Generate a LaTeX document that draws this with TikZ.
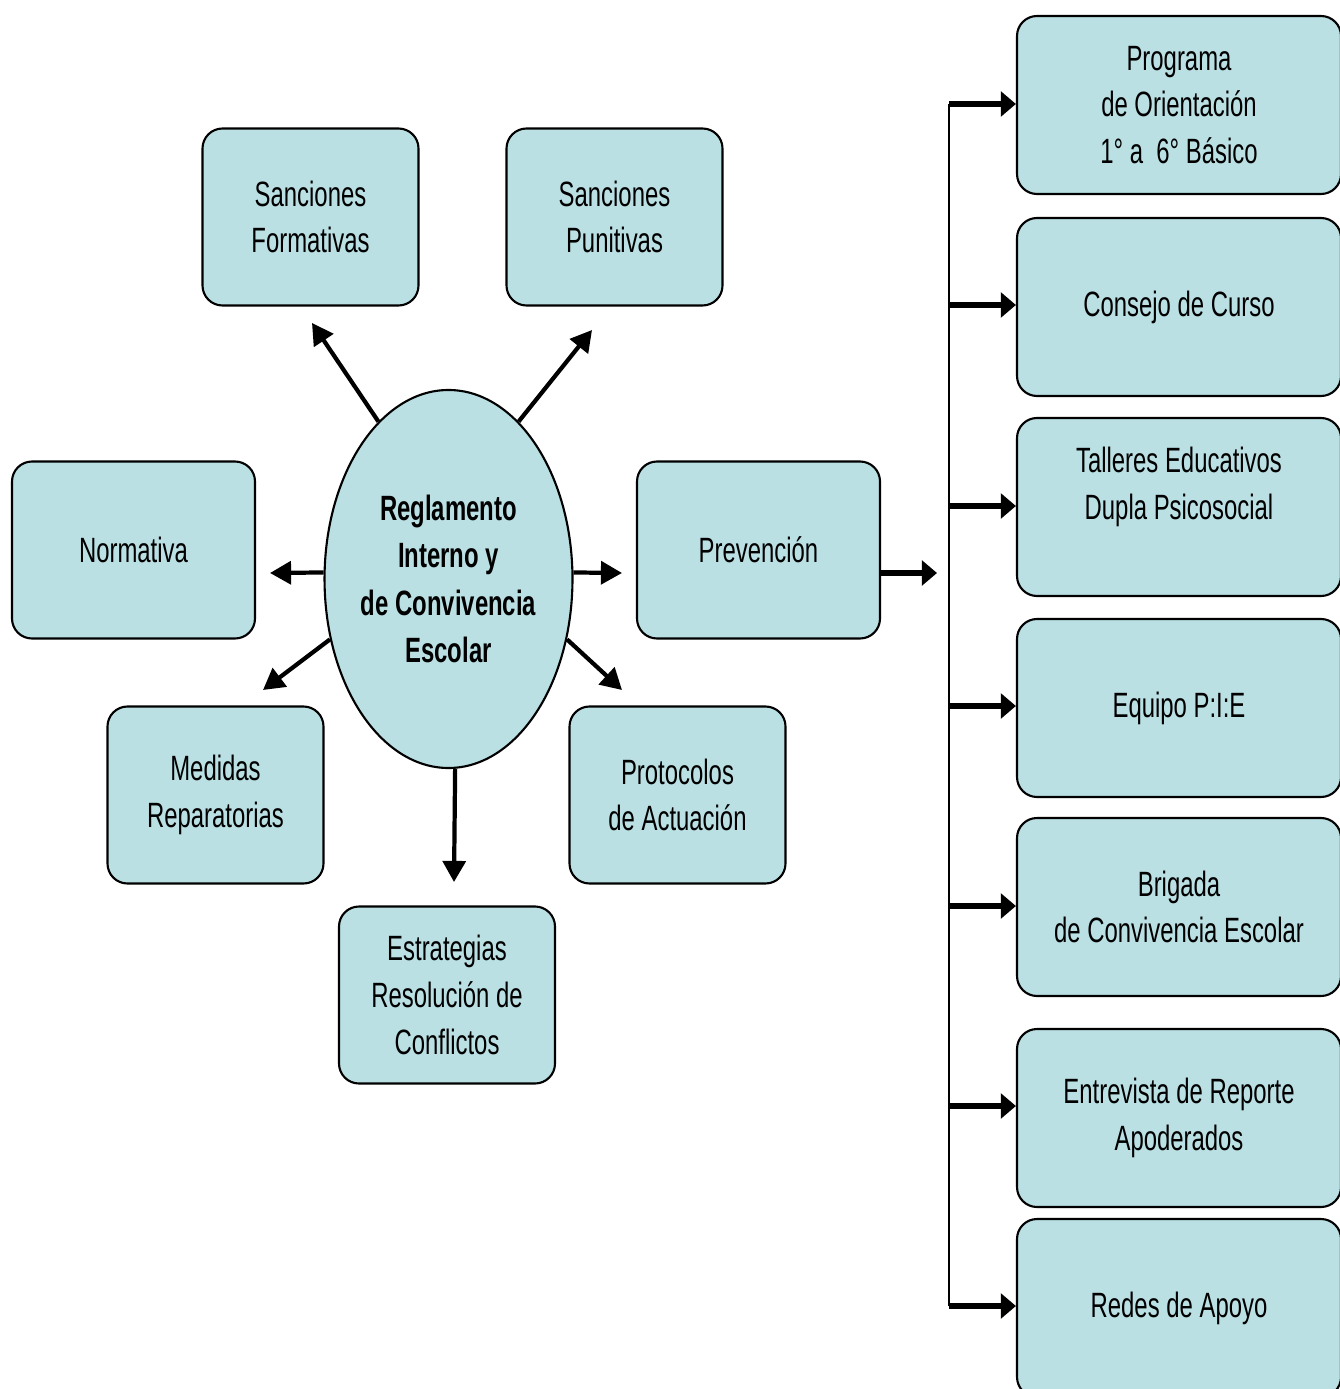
\documentclass[tikz,border=0pt]{standalone}
\usepackage{fontspec}
\setmainfont{Liberation Sans}
\newfontfamily\estrecha[FakeStretch=0.68]{Liberation Sans}
\usetikzlibrary{shapes.geometric,arrows.meta}
\definecolor{celeste}{RGB}{186,224,228}

\tikzset{
	caja/.style={draw, fill=celeste, line width=0.6pt, rounded corners=0.2cm, minimum width=2.16cm, minimum height=1.77cm, align=center, font=\estrecha\fontsize{10}{13.3}\selectfont},
	cajader/.style={caja, minimum width=3.24cm, minimum height=1.78cm},
	flecha/.style={-{Triangle[length=6pt,width=6.5pt]}, line width=1.2pt},
	flechag/.style={-{Triangle[length=4.3pt,width=7pt]}, line width=1.9pt},
}

\begin{document}
\begin{tikzpicture}
	\useasboundingbox (0,0) rectangle (13.39,-13.89);

	% centro
	\node[ellipse, draw, fill=celeste, line width=0.6pt, minimum width=2.43cm, minimum height=3.78cm, inner sep=0pt, align=center, font=\estrecha\bfseries\fontsize{10}{13.5}\selectfont] (ri) at (4.485,-5.79) {Reglamento\\Interno y\\de Convivencia\\Escolar};

	\node[caja] (sf) at (3.105,-2.17) {Sanciones\\Formativas};
	\node[caja] (sp) at (6.145,-2.17) {Sanciones\\Punitivas};
	\node[caja, minimum width=2.43cm] (nor) at (1.335,-5.50) {Normativa};
	\node[caja, minimum width=2.43cm] (pre) at (7.585,-5.50) {Prevención};
	\node[caja] (mr) at (2.155,-7.95) {Medidas\\Reparatorias};
	\node[caja] (pa) at (6.775,-7.95) {Protocolos\\de Actuación};
	\node[caja] (er) at (4.47,-9.95) {Estrategias\\Resolución de\\Conflictos};

	\coordinate (tsf) at (3.12,-3.23);
	\coordinate (tsp) at (5.92,-3.30);
	\coordinate (tnor) at (2.70,-5.73);
	\coordinate (tpre) at (6.22,-5.73);
	\coordinate (tmr) at (2.63,-6.90);
	\coordinate (tpa) at (6.22,-6.90);
	\coordinate (ter) at (4.54,-8.82);

	\draw[flecha] (ri.114) -- (tsf);
	\draw[flecha] (ri.66) -- (tsp);
	\draw[flecha] (ri.177) -- (tnor);
	\draw[flecha] (ri.3) -- (tpre);
	\draw[flecha] (ri.207) -- (tmr);
	\draw[flecha] (ri.333) -- (tpa);
	\draw[flecha] (ri.-88) -- (ter);

	% columna derecha
	\node[cajader] (p1) at (11.79,-1.05) {Programa\\de Orientación\\1° a \ 6° Básico};
	\node[cajader] (p2) at (11.79,-3.07) {Consejo de Curso};
	\node[cajader] (p3) at (11.79,-5.07) {Talleres Educativos\\Dupla Psicosocial\\~};
	\node[cajader] (p4) at (11.79,-7.08) {Equipo P:I:E};
	\node[cajader] (p5) at (11.79,-9.07) {Brigada\\de Convivencia Escolar};
	\node[cajader] (p6) at (11.79,-11.18) {Entrevista de Reporte\\Apoderados};
	\node[cajader] (p7) at (11.79,-13.08) {Redes de Apoyo};

	\coordinate (tder) at (9.37,-5.73);
	\draw[flechag] (tder -| pre.east) -- (tder);

	\coordinate (v1) at (9.49,-1.04);
	\coordinate (v2) at (9.49,-3.05);
	\coordinate (v3) at (9.49,-5.06);
	\coordinate (v4) at (9.49,-7.06);
	\coordinate (v5) at (9.49,-9.06);
	\coordinate (v6) at (9.49,-11.06);
	\coordinate (v7) at (9.49,-13.06);
	\draw[line width=0.6pt] (v1) -- (v7);
	\foreach \i in {1,...,7}
		\draw[flechag] (v\i) -- (v\i -| p\i.west);
\end{tikzpicture}
\end{document}
